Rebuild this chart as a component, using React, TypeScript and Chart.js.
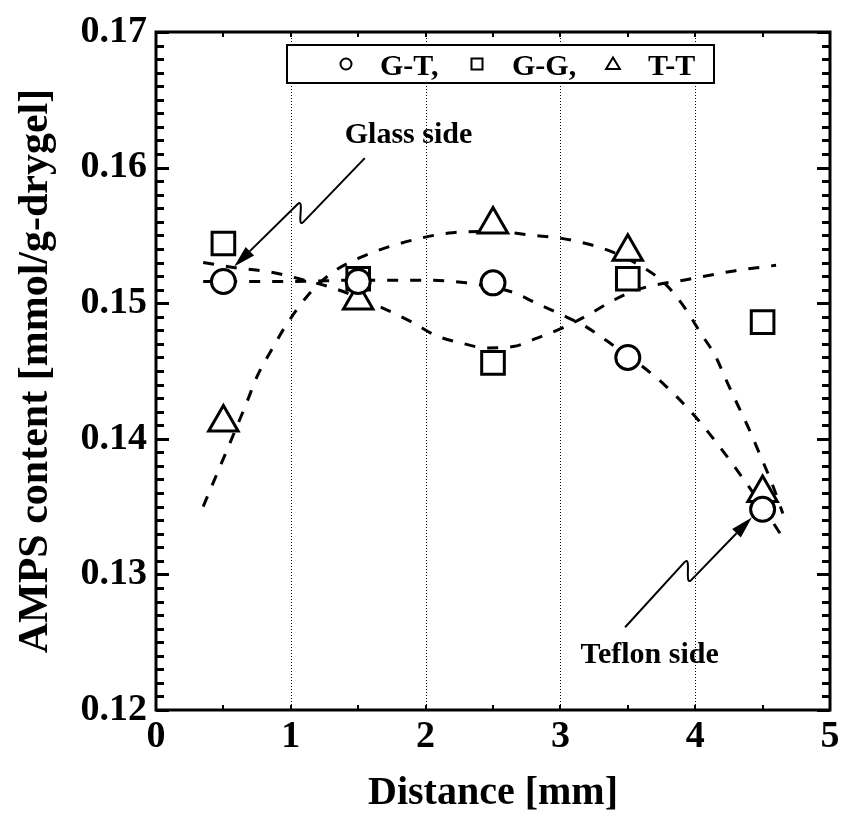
import React, { useEffect, useRef } from "react";
import { Chart, registerables } from "chart.js";

Chart.register(...registerables);

// ---- data ----
const distances = [0.5, 1.5, 2.5, 3.5, 4.5];
const gtValues = [0.1516, 0.1516, 0.1515, 0.146, 0.1348];
const ggValues = [0.1544, 0.1518, 0.1456, 0.1518, 0.1486];
const ttValues = [0.1412, 0.1502, 0.1558, 0.1538, 0.136];

// dashed trend curves
const gtFitX = [0.35, 1.0, 1.5, 2.0, 2.3, 2.65, 2.82, 3.02, 3.2, 3.39, 3.6, 3.77, 3.95, 4.12, 4.28, 4.5, 4.65];
const gtFitY = [0.1516, 0.1516, 0.1517, 0.1517, 0.1515, 0.1508, 0.15, 0.1491, 0.1482, 0.1469, 0.1454, 0.144, 0.1422, 0.1402, 0.1381, 0.135, 0.1327];
const ggFitX = [0.35, 0.6, 0.85, 1.1, 1.32, 1.67, 1.9, 2.08, 2.25, 2.45, 2.65, 2.82, 3.02, 3.2, 3.39, 3.57, 3.97, 4.3, 4.6];
const ggFitY = [0.153, 0.1526, 0.1523, 0.1517, 0.1511, 0.1497, 0.1486, 0.1476, 0.1471, 0.1467, 0.1468, 0.1474, 0.1482, 0.1491, 0.1502, 0.151, 0.1518, 0.1524, 0.1528];
const ttFitX = [0.35, 0.67, 0.75, 0.86, 0.96, 1.12, 1.3, 1.5, 1.74, 2.2, 2.5, 2.8, 3.0, 3.19, 3.38, 3.55, 3.77, 3.92, 4.04, 4.15, 4.24, 4.32, 4.4, 4.49, 4.57, 4.65];
const ttFitY = [0.135, 0.1426, 0.1446, 0.1466, 0.1483, 0.1505, 0.1522, 0.1533, 0.1542, 0.1552, 0.1553, 0.155, 0.1548, 0.1544, 0.1538, 0.153, 0.1515, 0.1497, 0.1478, 0.1461, 0.1441, 0.1424, 0.1407, 0.1386, 0.1367, 0.1345];

const seriesLabels = ["G-T,", "G-G,", "T-T"];
const seriesStyles = ["circle", "rect", "triangle"];
const xTickValues = [0, 1, 2, 3, 4, 5];
const yTickValues = [0.12, 0.13, 0.14, 0.15, 0.16, 0.17];
const xTitle = "Distance [mm]";
const yTitle = "AMPS content [mmol/g-drygel]";

// annotations (data coordinates)
const glassText = "Glass side";
const glassTextPos = [1.4, 0.1618];
const glassArrowX = [1.549, 1.094, 1.05, 0.58];
const glassArrowY = [0.1607, 0.156, 0.1573, 0.1527];
const teflonText = "Teflon side";
const teflonTextPos = [3.15, 0.1235];
const teflonArrowX = [3.48, 3.921, 3.972, 4.42];
const teflonArrowY = [0.1261, 0.1309, 0.1296, 0.1342];

const FONT = '"Liberation Serif", "Times New Roman", Times, serif';

const pts = (xs: number[], ys: number[]) => xs.map((x, i) => ({ x, y: ys[i] }));

function drawMarker(ctx: CanvasRenderingContext2D, style: string, x: number, y: number, r: number) {
  ctx.beginPath();
  if (style === "circle") {
    ctx.arc(x, y, r, 0, Math.PI * 2);
  } else if (style === "rect") {
    ctx.rect(x - r, y - r, 2 * r, 2 * r);
  } else {
    ctx.moveTo(x, y - r * 1.1);
    ctx.lineTo(x + r * 1.15, y + r * 0.85);
    ctx.lineTo(x - r * 1.15, y + r * 0.85);
    ctx.closePath();
  }
  ctx.fill();
  ctx.stroke();
}

function drawArrow(chart: any, xs: number[], ys: number[]) {
  const { ctx, scales } = chart;
  const p = xs.map((v, i) => ({ x: scales.x.getPixelForValue(v), y: scales.y.getPixelForValue(ys[i]) }));
  const norm = (a: any, b: any) => {
    const dx = b.x - a.x, dy = b.y - a.y;
    const l = Math.hypot(dx, dy) || 1;
    return { x: dx / l, y: dy / l };
  };
  const d1 = norm(p[0], p[1]);
  const d2 = norm(p[2], p[3]);
  const k = 11;
  const headLen = 22, headHalf = 6;
  const base = { x: p[3].x - d2.x * headLen, y: p[3].y - d2.y * headLen };
  ctx.save();
  ctx.strokeStyle = "#000";
  ctx.lineWidth = 2;
  ctx.setLineDash([]);
  ctx.beginPath();
  ctx.moveTo(p[0].x, p[0].y);
  ctx.lineTo(p[1].x, p[1].y);
  ctx.bezierCurveTo(p[1].x + d1.x * k, p[1].y + d1.y * k, p[2].x - d2.x * k, p[2].y - d2.y * k, p[2].x, p[2].y);
  ctx.lineTo(base.x, base.y);
  ctx.stroke();
  ctx.fillStyle = "#000";
  ctx.beginPath();
  ctx.moveTo(p[3].x, p[3].y);
  ctx.lineTo(base.x - d2.y * headHalf, base.y + d2.x * headHalf);
  ctx.lineTo(base.x + d2.y * headHalf, base.y - d2.x * headHalf);
  ctx.closePath();
  ctx.fill();
  ctx.restore();
}

const framePlugin = {
  id: "framePlugin",
  beforeDatasetsDraw(chart: any) {
    const { ctx, chartArea: a, scales } = chart;
    ctx.save();
    ctx.strokeStyle = "#000";
    ctx.lineWidth = 1;
    ctx.setLineDash([1, 2]);
    xTickValues.slice(1, -1).forEach((v) => {
      const px = Math.round(scales.x.getPixelForValue(v)) + 0.5;
      ctx.beginPath();
      ctx.moveTo(px, a.top);
      ctx.lineTo(px, a.bottom);
      ctx.stroke();
    });
    ctx.restore();
  },
  afterDatasetsDraw(chart: any) {
    const { ctx, chartArea: a, scales } = chart;
    const xs = scales.x, ys = scales.y;
    ctx.save();
    ctx.setLineDash([]);
    ctx.strokeStyle = "#000";
    // minor / major ticks on y (left and right, inward)
    ctx.lineWidth = 3;
    const yMin = yTickValues[0], yMax = yTickValues[yTickValues.length - 1];
    const nMinor = Math.round((yMax - yMin) / 0.001);
    for (let i = 0; i <= nMinor; i++) {
      const v = yMin + i * 0.001;
      const py = Math.round(ys.getPixelForValue(v)) + 0.5;
      const len = i % 10 === 0 ? 13 : 8;
      ctx.beginPath();
      ctx.moveTo(a.left, py);
      ctx.lineTo(a.left + len, py);
      ctx.moveTo(a.right, py);
      ctx.lineTo(a.right - len, py);
      ctx.stroke();
    }
    // x ticks top/bottom every 0.5
    ctx.lineWidth = 2;
    for (let v = 0; v <= 5; v += 0.5) {
      const px = Math.round(xs.getPixelForValue(v));
      ctx.beginPath();
      ctx.moveTo(px, a.top);
      ctx.lineTo(px, a.top + 5);
      ctx.moveTo(px, a.bottom);
      ctx.lineTo(px, a.bottom - 5);
      ctx.stroke();
    }
    // frame
    ctx.lineWidth = 3;
    ctx.strokeRect(a.left, a.top, a.right - a.left, a.bottom - a.top);

    // annotations
    ctx.fillStyle = "#000";
    ctx.font = `bold 30px ${FONT}`;
    ctx.textAlign = "left";
    ctx.textBaseline = "alphabetic";
    ctx.fillText(glassText, xs.getPixelForValue(glassTextPos[0]), ys.getPixelForValue(glassTextPos[1]));
    ctx.fillText(teflonText, xs.getPixelForValue(teflonTextPos[0]), ys.getPixelForValue(teflonTextPos[1]));
    drawArrow(chart, glassArrowX, glassArrowY);
    drawArrow(chart, teflonArrowX, teflonArrowY);

    // legend box
    const bx = a.left + 131, by = a.top + 13, bw = 427, bh = 38;
    ctx.fillStyle = "#fff";
    ctx.fillRect(bx, by, bw, bh);
    ctx.lineWidth = 2;
    ctx.strokeRect(bx, by, bw, bh);
    const markerX = [59, 190, 326];
    const textX = [93, 225, 361];
    const markerR = [5.5, 5.5, 6];
    seriesLabels.forEach((lab, i) => {
      ctx.fillStyle = "#fff";
      ctx.strokeStyle = "#000";
      ctx.lineWidth = 2;
      drawMarker(ctx, seriesStyles[i], bx + markerX[i], by + 19, markerR[i]);
      ctx.fillStyle = "#000";
      ctx.font = `bold 30px ${FONT}`;
      ctx.fillText(lab, bx + textX[i], by + 30);
    });
    ctx.restore();
  },
};

export default function App() {
  const ref = useRef<HTMLCanvasElement | null>(null);
  useEffect(() => {
    if (!ref.current) return;
    const fitLine = (xs: number[], ys: number[]) => ({
      type: "line" as const,
      data: pts(xs, ys),
      showLine: true,
      borderColor: "#000",
      borderWidth: 3,
      borderDash: [11, 12],
      pointRadius: 0,
      fill: false,
      cubicInterpolationMode: "monotone" as const,
    });
    const marker = (ys: number[], style: string, r: number) => ({
      data: pts(distances, ys),
      showLine: false,
      pointStyle: style,
      pointRadius: r,
      pointHoverRadius: r,
      pointBorderWidth: 3,
      pointBorderColor: "#000",
      pointBackgroundColor: "#fff",
      borderColor: "#000",
      backgroundColor: "#fff",
    });
    const chart = new Chart(ref.current, {
      type: "scatter",
      data: {
        datasets: [
          { label: seriesLabels[0], ...marker(gtValues, "circle", 12) },
          { label: seriesLabels[2], ...marker(ttValues, "triangle", 17) },
          { label: seriesLabels[1], ...marker(ggValues, "rect", 16) },
          { label: "fit G-T", ...fitLine(gtFitX, gtFitY) },
          { label: "fit G-G", ...fitLine(ggFitX, ggFitY) },
          { label: "fit T-T", ...fitLine(ttFitX, ttFitY) },
        ] as any,
      },
      options: {
        animation: false,
        responsive: false,
        events: [],
        layout: { padding: { left: 0, top: 32, right: 13, bottom: 0 } },
        plugins: { legend: { display: false }, tooltip: { enabled: false } },
        scales: {
          x: {
            type: "linear",
            min: 0,
            max: 5,
            afterFit: (s: any) => {
              s.height = 109;
            },
            grid: { display: false, drawTicks: false },
            border: { display: false },
            ticks: {
              stepSize: 1,
              autoSkip: false,
              maxRotation: 0,
              padding: 4,
              color: "#000",
              font: { family: FONT, size: 38, weight: "bold" },
              callback: (v: any) => String(v),
            },
            title: {
              display: true,
              text: xTitle,
              color: "#000",
              font: { family: FONT, size: 40, weight: "bold" },
              padding: { top: 0, bottom: 1 },
            },
          },
          y: {
            type: "linear",
            min: yTickValues[0],
            max: yTickValues[yTickValues.length - 1],
            afterFit: (s: any) => {
              s.width = 156;
            },
            grid: { display: false, drawTicks: false },
            border: { display: false },
            ticks: {
              stepSize: 0.01,
              autoSkip: false,
              padding: 9,
              color: "#000",
              font: { family: FONT, size: 38, weight: "bold" },
              callback: (v: any) => Number(v).toFixed(2),
            },
            title: {
              display: true,
              text: yTitle,
              color: "#000",
              font: { family: FONT, size: 42, weight: "bold" },
              padding: { top: 11, bottom: 0 },
            },
          },
        },
      } as any,
      plugins: [framePlugin],
    });
    return () => chart.destroy();
  }, []);
  return (
    <div style={{ position: "absolute", left: 0, top: 0, width: 850, height: 819, background: "#fff" }}>
      <canvas ref={ref} width={850} height={819} style={{ display: "block" }} />
    </div>
  );
}
